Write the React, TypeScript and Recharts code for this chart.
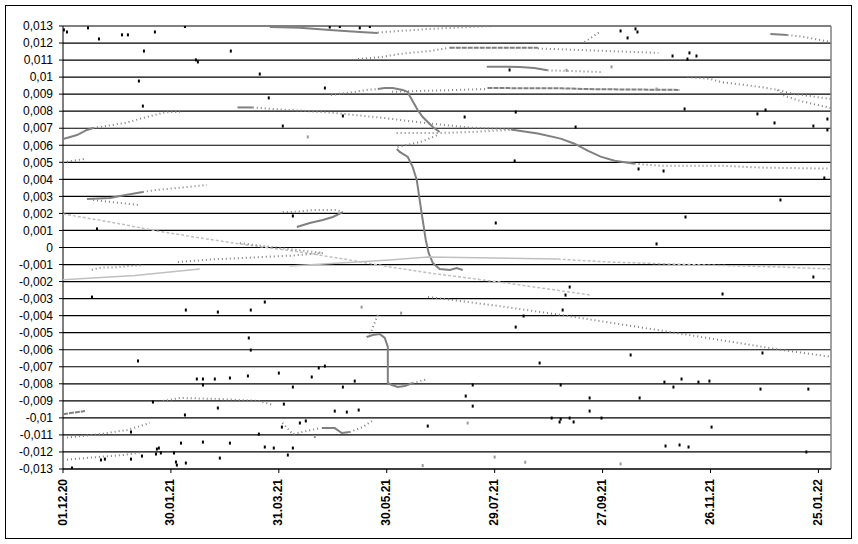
import {
  CartesianGrid,
  ReferenceLine,
  Scatter,
  ScatterChart,
  XAxis,
  YAxis,
} from "recharts";

type Pt = [number, number];

// x = days since 01.12.20
const xTicks = [0, 60, 120, 180, 240, 300, 360, 420];
const xTickLabels = ["01.12.20", "30.01.21", "31.03.21", "30.05.21", "29.07.21", "27.09.21", "26.11.21", "25.01.22"];
const yTicks = [
  -0.013, -0.012, -0.011, -0.01, -0.009, -0.008, -0.007, -0.006, -0.005, -0.004, -0.003, -0.002, -0.001, 0,
  0.001, 0.002, 0.003, 0.004, 0.005, 0.006, 0.007, 0.008, 0.009, 0.01, 0.011, 0.012, 0.013,
];

// top band
const topBand: Pt[] = [[115, 0.01294], [131.7, 0.01289], [148.3, 0.01277], [165, 0.01265], [175, 0.01259]];
const topBandTail: Pt[] = [[175, 0.01262], [204, 0.01283], [226, 0.01294], [240, 0.013]];
const rise0117: Pt[] = [[164, 0.01106], [177, 0.01118], [187, 0.01136], [204, 0.01153], [215, 0.01173]];
const band0117: Pt[] = [[215, 0.01173], [264, 0.01173]];
const tail0117: Pt[] = [[264, 0.01168], [298, 0.01155], [331, 0.01142]];
const band0105: Pt[] = [[235.6, 0.01061], [254, 0.0106], [262, 0.01053], [269.4, 0.0104]];
const tail0105: Pt[] = [[269.4, 0.0104], [300, 0.0103]];
const topRight: Pt[] = [[393.3, 0.01253], [402.8, 0.01247]];
const topRightTail: Pt[] = [[402.8, 0.01247], [412.2, 0.01236], [426.7, 0.01206]];
const riseTop: Pt[] = [[290, 0.01206], [298.3, 0.01265]];

// upper arc and first drop
const arcRise: Pt[] = [[149, 0.00895], [162, 0.00913], [169, 0.00925], [175, 0.0093]];
const arcDrop: Pt[] = [
  [175, 0.0093], [178.9, 0.00936], [183.3, 0.00936], [188.9, 0.00925], [191.7, 0.00913], [192.8, 0.00889],
  [195, 0.00848], [197.2, 0.00807], [200, 0.00766], [202.8, 0.00737], [205.6, 0.00707], [209.4, 0.00678],
];
const flat0092: Pt[] = [[183, 0.00914], [203, 0.0092], [236, 0.0093]];
const band0093: Pt[] = [[236, 0.00936], [277, 0.00934], [296, 0.00929], [343, 0.00925]];
const right01: Pt[] = [
  [347.2, 0.01001], [360, 0.00989], [365.6, 0.00971], [378.9, 0.00954], [387.8, 0.00942], [397.2, 0.00925],
  [406.7, 0.00901], [426.7, 0.00872],
];
const right01Low: Pt[] = [[397.2, 0.00925], [401.1, 0.00889], [410, 0.0086], [426.7, 0.00819]];

// 0.008 -> 0.005 decline
const left0063: Pt[] = [[0, 0.00637], [7.8, 0.0066], [13.3, 0.0069], [16.7, 0.00701]];
const left0063Tail: Pt[] = [[16.7, 0.00701], [34.4, 0.00731], [46.7, 0.00766], [55.6, 0.0079], [59.4, 0.00795], [65, 0.00795]];
const decl0082Head: Pt[] = [[97, 0.00822], [105.5, 0.00822]];
const decl0082: Pt[] = [
  [105.5, 0.00822], [120.6, 0.0081], [148.3, 0.00792], [176, 0.00763], [204, 0.00728], [226, 0.00704], [249, 0.00693],
];
const decl0069: Pt[] = [
  [249, 0.00693], [264, 0.00669], [276.7, 0.00639], [284.4, 0.00609], [291.7, 0.00568], [298.9, 0.00533],
  [306.7, 0.00509], [317.8, 0.00492],
];
const tail0049: Pt[] = [[317.8, 0.00492], [332, 0.0048], [365.6, 0.0048], [387.8, 0.00469], [425, 0.00463]];
const flat0067: Pt[] = [[185.5, 0.00672], [208.3, 0.00672], [226.7, 0.00678], [249, 0.0069]];
const rise0059: Pt[] = [[186, 0.0059], [199, 0.0062], [208.3, 0.0066]];
const left005: Pt[] = [[0, 0.005], [12.2, 0.0052]];

// second drop
const drop0058: Pt[] = [
  [185.6, 0.00578], [187.2, 0.00561], [191.7, 0.00531], [194.4, 0.00473], [196.7, 0.00396], [198.3, 0.00279],
  [200, 0.00161], [201.7, 0.00044], [203.3, -0.00032], [205.6, -0.00091], [209.4, -0.00126], [215, -0.00132],
  [218.9, -0.0012], [222.2, -0.00132],
];

// 0.003 / 0.002
const line0028: Pt[] = [[13.3, 0.00285], [26.1, 0.00291], [31.7, 0.00302], [44.4, 0.00326]];
const line0028Tail: Pt[] = [[44.4, 0.00326], [52.2, 0.00338], [63.3, 0.00349], [80, 0.00367]];
const line0025: Pt[] = [[16.7, 0.00279], [41.7, 0.0025]];
const wedgeTop: Pt[] = [[122.2, 0.00208], [127.8, 0.00208], [138.9, 0.0022], [152.2, 0.0022], [155.6, 0.00208]];
const wedgeLow: Pt[] = [[155.6, 0.00208], [150, 0.00179], [144.4, 0.00161], [137.2, 0.00144], [130, 0.0012]];

// around zero
const light002: Pt[] = [
  [0, 0.00197], [26.1, 0.0015], [52.2, 0.00097], [80, 0.0005], [102.2, 0.00015], [131.7, -0.00026],
  [159.4, -0.00073], [181.7, -0.00114], [203.9, -0.0015], [242.8, -0.00203], [293.3, -0.00279],
];
const mid0003: Pt[] = [[98.3, 0.00026], [120.6, -0.00003], [144.4, -0.00032]];
const mid0008: Pt[] = [[63.9, -0.00085], [82.8, -0.0007], [102.8, -0.0006], [128, -0.00047], [144.4, -0.00032]];
const mid0012: Pt[] = [[16, -0.0013], [22, -0.00117], [28, -0.00117], [36, -0.00109], [44, -0.00103]];
const light0019: Pt[] = [[0, -0.0019], [40, -0.00165], [76, -0.00126]];
const light0008: Pt[] = [[126.1, -0.00109], [181.7, -0.00073], [202.8, -0.00056], [275, -0.00068]];
const light0008Tail: Pt[] = [[275, -0.00068], [302.8, -0.00085], [356.7, -0.00103], [397.2, -0.00114], [426.7, -0.00126]];
const decl003: Pt[] = [[203, -0.0029], [240, -0.0034], [277, -0.00396], [340, -0.005], [399, -0.006], [426, -0.0064]];

// lower S
const lowSIn: Pt[] = [[175, -0.00396], [171.7, -0.00484], [168.9, -0.00525]];
const lowS: Pt[] = [
  [168.9, -0.00525], [172.2, -0.00514], [176.1, -0.00508], [178.9, -0.00531], [180.6, -0.00584], [180.6, -0.00795],
  [182.8, -0.00807], [186.1, -0.00819], [190, -0.00813], [194.4, -0.00795],
];
const lowSOut: Pt[] = [[194.4, -0.00795], [198.3, -0.00784], [202.8, -0.00772]];

// bottom lines
const line009: Pt[] = [[55.6, -0.00901], [65, -0.00883], [87, -0.00889], [109.4, -0.00901], [116.7, -0.00925]];
const line0097: Pt[] = [[0, -0.00978], [12.2, -0.0096]];
const line0112: Pt[] = [[0, -0.01118], [20.6, -0.01095], [35.6, -0.01071], [48.3, -0.0103]];
const line0125: Pt[] = [[0, -0.01247], [18.9, -0.0123], [33.3, -0.01218], [44.4, -0.01201]];
const dip011In: Pt[] = [[122, -0.0103], [127.8, -0.01095], [142.8, -0.0106]];
const dip011: Pt[] = [[143.9, -0.0106], [151.1, -0.0106], [155, -0.01089], [159.4, -0.01083]];
const dip011Out: Pt[] = [[159.4, -0.01083], [166.7, -0.01054], [171.7, -0.01018]];

const blackDots: Pt[] = [
  [0.5, 0.01277], [2.2, 0.01265], [13.9, 0.01289], [20, 0.01224], [32.8, 0.01248], [36.1, 0.01248], [51.1, 0.01265],
  [67.8, 0.01297], [45, 0.01153], [73.9, 0.01101], [75, 0.01089], [93.3, 0.01153], [42.2, 0.00977], [44.4, 0.0083],
  [109.4, 0.01018], [114.4, 0.00878], [148.3, 0.01294], [153.9, 0.01297], [165, 0.01289], [170.6, 0.01297],
  [145.6, 0.00936], [122.2, 0.00713], [155.6, 0.00772], [127.8, 0.00185], [18.9, 0.00109], [310, 0.01271],
  [318.3, 0.01283], [319.4, 0.01265], [313.9, 0.0123], [338.9, 0.01124], [348.3, 0.01142], [352.2, 0.01124],
  [347.2, 0.01106], [248.3, 0.01042], [223.3, 0.00766], [251.7, 0.00795], [285, 0.00707], [345.6, 0.00813],
  [390.6, 0.00807], [386.1, 0.00784], [395.6, 0.00731], [425, 0.00754], [417.2, 0.00713], [425, 0.0069],
  [251.1, 0.00508], [320, 0.00461], [333.9, 0.00449], [423.3, 0.00408], [398.9, 0.00279], [346.1, 0.00179],
  [240.6, 0.00144], [330, 0.00021], [417.2, -0.00173], [281.7, -0.00232], [279.4, -0.00279], [366.7, -0.00273],
  [277.8, -0.00367], [256.1, -0.00402], [251.7, -0.00467], [388.9, -0.00619], [315.6, -0.00631], [265, -0.00678],
  [334.4, -0.0079], [343.9, -0.00772], [353.3, -0.0079], [359.4, -0.00784], [339.4, -0.00819], [387.8, -0.00831],
  [414.4, -0.00831], [227.8, -0.00807], [276.7, -0.00807], [223.9, -0.00872], [292.8, -0.00883], [320.6, -0.00883],
  [227.8, -0.00931], [292.8, -0.0096], [271.7, -0.01001], [276.7, -0.01007], [281.7, -0.01001], [299.4, -0.01001],
  [276.1, -0.01024], [283.9, -0.01024], [360.6, -0.01054], [335, -0.01165], [342.8, -0.01159], [347.8, -0.01171],
  [413.3, -0.012], [202.8, -0.01048], [16.1, -0.00291], [68.3, -0.00367], [86.1, -0.00379], [104.4, -0.00367],
  [112.2, -0.0032], [41.7, -0.00666], [103.3, -0.00531], [104.4, -0.00602], [120, -0.00737], [138.3, -0.0076],
  [145.6, -0.00696], [142.2, -0.00707], [74.4, -0.00772], [77.8, -0.00772], [84.4, -0.00772], [92.8, -0.00766],
  [102.8, -0.00754], [77.8, -0.00807], [127.8, -0.00819], [155.6, -0.00819], [162.2, -0.00784], [50, -0.00907],
  [86.1, -0.00942], [67.8, -0.00983], [122.8, -0.00919], [151.1, -0.0096], [157.8, -0.00966], [164.4, -0.00954],
  [121.7, -0.01054], [131.7, -0.0103], [135, -0.01018], [37.8, -0.01083], [108.9, -0.01095], [65.6, -0.01148],
  [77.8, -0.01142], [92.8, -0.01148], [112.2, -0.01171], [117.2, -0.01177], [127.8, -0.01177], [52.2, -0.01183],
  [53.3, -0.01177], [51.7, -0.01212], [54.4, -0.01206], [61.7, -0.01206], [43.9, -0.01224], [37.8, -0.01242],
  [23.3, -0.01242], [21.1, -0.01247], [87.2, -0.01236], [125, -0.01218], [62.8, -0.01259], [63.3, -0.01277],
  [68.3, -0.01265], [5, -0.01294],
];
const grayDots: Pt[] = [
  [166, -0.0035], [136.1, 0.00649], [188, -0.00385], [240, -0.0123], [257, -0.0126], [305, 0.0106], [280, 0.0104],
  [200, -0.0128], [310, -0.0127], [225, -0.0103], [330, 0.0093], [140, -0.0111],
];

const DARK = "#808080";
const LIGHT = "#c0c0c0";

type Kind = "thick" | "dot" | "dash" | "light" | "lightDash";
const styles: Record<Kind, { stroke: string; strokeWidth: number; strokeDasharray?: string }> = {
  thick: { stroke: DARK, strokeWidth: 2 },
  dot: { stroke: DARK, strokeWidth: 2, strokeDasharray: "1 3" },
  dash: { stroke: DARK, strokeWidth: 2, strokeDasharray: "5 1" },
  light: { stroke: LIGHT, strokeWidth: 1.5 },
  lightDash: { stroke: LIGHT, strokeWidth: 1.5, strokeDasharray: "3 2" },
};

const curves: [Pt[], Kind][] = [
  [topBand, "thick"], [topBandTail, "dot"], [rise0117, "dot"], [band0117, "dash"], [tail0117, "dot"],
  [band0105, "thick"], [tail0105, "dot"], [topRight, "thick"], [topRightTail, "dot"], [riseTop, "dot"],
  [arcRise, "dot"], [arcDrop, "thick"], [flat0092, "dot"], [band0093, "dash"], [right01, "dot"], [right01Low, "dot"],
  [left0063, "thick"], [left0063Tail, "dot"], [decl0082Head, "thick"], [decl0082, "dot"], [decl0069, "thick"],
  [tail0049, "dot"], [flat0067, "dot"], [rise0059, "dot"], [left005, "dot"], [drop0058, "thick"],
  [line0028, "thick"], [line0028Tail, "dot"], [line0025, "dot"], [wedgeTop, "dot"], [wedgeLow, "thick"],
  [light002, "lightDash"], [mid0003, "dot"], [mid0008, "dot"], [mid0012, "dot"], [light0019, "light"],
  [light0008, "light"], [light0008Tail, "lightDash"], [decl003, "dot"],
  [lowSIn, "dot"], [lowS, "thick"], [lowSOut, "dot"],
  [line009, "dot"], [line0097, "dash"], [line0112, "dot"], [line0125, "dot"],
  [dip011In, "dot"], [dip011, "thick"], [dip011Out, "dot"],
];

const toXY = (pts: Pt[]) => pts.map(([x, y]) => ({ x, y }));

const fmtY = (v: number) => {
  const r = Math.round(v * 1000) / 1000;
  return r === 0 ? "0" : String(r).replace(".", ",");
};

const DateTick = (props: any) => {
  const { x, y, payload } = props;
  const i = xTicks.indexOf(payload.value);
  return (
    <g transform={`translate(${x},${y})`}>
      <text
        x={0}
        y={0}
        dy={3.5}
        transform="rotate(-90)"
        textAnchor="end"
        fontFamily="'Liberation Sans', Arial, sans-serif"
        fontWeight="bold"
        fontSize={12}
        fill="#000"
      >
        {xTickLabels[i] ?? ""}
      </text>
    </g>
  );
};

const noDot = () => <g />;

export default function App() {
  return (
    <div style={{ position: "absolute", left: 0, top: 0, width: 858, height: 544, background: "#fff" }}>
      <div
        style={{
          position: "absolute",
          left: 5,
          top: 5,
          width: 845,
          height: 532,
          border: "1px solid #000",
        }}
      />
      <div style={{ position: "absolute", left: 0, top: 0 }}>
        <ScatterChart width={858} height={544} margin={{ top: 26, right: 27, left: 5, bottom: 15 }}>
          <CartesianGrid vertical={false} stroke="#000" strokeWidth={1.2} />
          <XAxis
            type="number"
            dataKey="x"
            domain={[0, 427]}
            ticks={xTicks}
            interval={0}
            allowDataOverflow
            height={60}
            tickSize={4}
            tickMargin={6}
            stroke="#000"
            tick={<DateTick />}
          />
          <YAxis
            type="number"
            dataKey="y"
            domain={[-0.013, 0.013]}
            ticks={yTicks}
            interval={0}
            allowDataOverflow
            width={58}
            tickSize={4}
            tickMargin={6}
            stroke="#000"
            tickFormatter={fmtY}
            tick={{ fontSize: 12, fill: "#000", fontFamily: "'Liberation Sans', Arial, sans-serif" }}
          />
          <ReferenceLine y={0.013} stroke="#808080" strokeWidth={1.5} />
          <ReferenceLine x={427} stroke="#808080" strokeWidth={1.5} />
          {curves.map(([pts, kind], i) => (
            <Scatter
              key={`c${i}`}
              data={toXY(pts)}
              line={styles[kind]}
              lineType="joint"
              shape={noDot}
              isAnimationActive={false}
            />
          ))}
          <Scatter
            data={toXY(grayDots)}
            shape={(p: any) => <rect x={p.cx - 1} y={p.cy - 1.5} width={2} height={3} fill="#999" />}
            isAnimationActive={false}
          />
          <Scatter
            data={toXY(blackDots)}
            shape={(p: any) => <rect x={p.cx - 1} y={p.cy - 1.5} width={2} height={3} fill="#000" />}
            isAnimationActive={false}
          />
        </ScatterChart>
      </div>
    </div>
  );
}
